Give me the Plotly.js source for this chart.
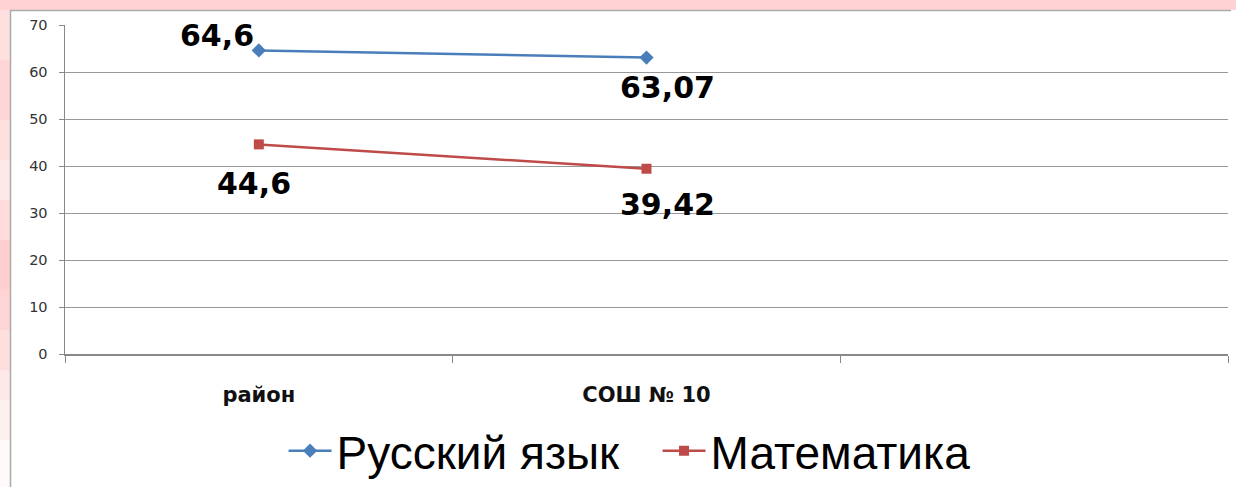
<!DOCTYPE html>
<html>
<head>
<meta charset="utf-8">
<script src="https://cdn.plot.ly/plotly-3.0.1.min.js"></script>
<style>html,body{margin:0;padding:0;background:#fff}#chart{width:1236px;height:487px}</style>
</head>
<body>
<div id="chart"></div>
<script>
// Data
var categories = ["район", "СОШ № 10", " "];
var seriesNames = ["Русский язык", "Математика"];
var russianValues = [64.6, 63.07];
var mathValues = [44.6, 39.42];
var yTickValues = [0, 10, 20, 30, 40, 50, 60, 70];

function fmt(v) { return String(v).replace('.', ','); }

var blue = '#4a7ebb', red = '#be4b48';

var traces = [
  {
    x: categories.slice(0, russianValues.length), y: russianValues, name: seriesNames[0],
    type: 'scatter', mode: 'lines+markers',
    line: {color: blue, width: 2.5},
    marker: {symbol: 'diamond', size: 11, color: blue}
  },
  {
    x: categories.slice(0, mathValues.length), y: mathValues, name: seriesNames[1],
    type: 'scatter', mode: 'lines+markers',
    line: {color: red, width: 2.5},
    marker: {symbol: 'square', size: 10, color: red}
  }
];

// label offsets (styling)
var rusShift = [[-42, 15], [21, -30]];
var mathShift = [[-5, -39], [21, -36]];
var annotations = [];
function addLabels(vals, shifts) {
  vals.forEach(function (v, i) {
    annotations.push({
      x: categories[i], y: v, xref: 'x', yref: 'y', text: fmt(v), showarrow: false,
      xshift: shifts[i][0], yshift: shifts[i][1],
      font: {family: 'DejaVu Sans, sans-serif', size: 30, color: '#000', weight: 'bold'}
    });
  });
}
addLabels(russianValues, rusShift);
addLabels(mathValues, mathShift);

// Frame shapes (pink border background)
var W = 1163, H = 329, L = 65, T = 25;
function px(x) { return (x - L) / W; }
function py(y) { return 1 - (y - T) / H; }
var shapes = [
  {type: 'rect', xref: 'paper', yref: 'paper', layer: 'below',
   x0: px(0), x1: px(1236), y0: py(0), y1: py(10), fillcolor: '#ffd3d3', line: {width: 0}}
];
var leftBands = [[10, 60, 0.6], [60, 120, 0.8], [120, 160, 0.6], [160, 200, 0.45], [200, 240, 0.7], [240, 290, 0.95], [290, 330, 0.85], [330, 370, 0.65], [370, 400, 0.45], [400, 440, 0.3], [440, 487, 0.12]];
leftBands.forEach(function (b) {
  shapes.push({type: 'rect', xref: 'paper', yref: 'paper', layer: 'below',
    x0: px(0), x1: px(10), y0: py(b[1]), y1: py(b[0]),
    fillcolor: '#ffcccc', opacity: b[2], line: {width: 0}});
});
shapes.push({type: 'line', xref: 'paper', yref: 'paper', layer: 'below',
  x0: px(10), x1: px(1231), y0: py(10.5), y1: py(10.5), line: {color: '#aaa', width: 1.5}});
shapes.push({type: 'line', xref: 'paper', yref: 'paper', layer: 'below',
  x0: px(10.5), x1: px(10.5), y0: py(10), y1: py(487), line: {color: '#aaa', width: 1.5}});

var layout = {
  width: 1236, height: 487,
  margin: {l: 65, r: 8, t: 25, b: 133, autoexpand: false},
  paper_bgcolor: '#ffffff',
  plot_bgcolor: 'rgba(0,0,0,0)',
  showlegend: true,
  legend: {
    orientation: 'h', x: 0.5095, xanchor: 'center', xref: 'paper',
    y: -0.294, yanchor: 'middle',
    font: {family: 'Liberation Sans, Arial, sans-serif', size: 46, color: '#000'},
    itemwidth: 43, entrywidth: 316, entrywidthmode: 'pixels',
    tracegroupgap: 0, bgcolor: 'rgba(0,0,0,0)'
  },
  xaxis: {
    type: 'category', categoryorder: 'array', categoryarray: categories,
    range: [-0.5, 2.5], tickson: 'boundaries',
    ticks: 'outside', ticklen: 7, tickcolor: '#888', tickwidth: 1,
    showline: true, linecolor: '#888', linewidth: 1.5,
    showgrid: false, zeroline: false,
    ticklabelstandoff: 21,
    tickfont: {family: 'DejaVu Sans, sans-serif', size: 21, color: '#111', weight: 'bold'},
    fixedrange: true
  },
  yaxis: {
    range: [0, 70], tickvals: yTickValues,
    ticks: 'outside', ticklen: 5, tickcolor: '#888',
    showline: true, linecolor: '#888', linewidth: 1.5,
    showgrid: true, gridcolor: '#999', gridwidth: 1,
    zeroline: false, ticklabelstandoff: 8,
    tickfont: {family: 'DejaVu Sans, sans-serif', size: 14.5, color: '#333'},
    fixedrange: true
  },
  shapes: shapes,
  annotations: annotations
};

Plotly.newPlot('chart', traces, layout, {displayModeBar: false, staticPlot: true});
</script>
</body>
</html>
